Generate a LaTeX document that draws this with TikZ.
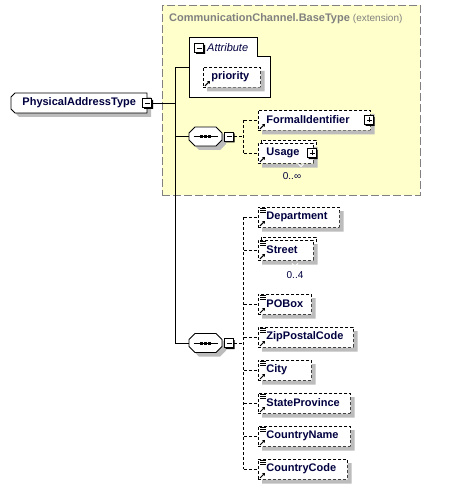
\documentclass[tikz,border=0pt]{standalone}
\usepackage{fontspec}
\setmainfont{Liberation Sans}
\usetikzlibrary{arrows.meta}

\definecolor{namecol}{RGB}{0,0,64}
\definecolor{shadecol}{RGB}{188,188,188}
\definecolor{basecol}{RGB}{255,255,204}
\definecolor{edgecol}{RGB}{128,128,128}

\newcommand{\elemfont}{\fontsize{11}{13}\selectfont\bfseries}
\newcommand{\refarrow}[1]{\draw[line width=1pt,-{Triangle[length=2.5pt,width=3.5pt]}] ([shift={(2,-1.5)}]#1.south west) -- ++(5,-5);}
\newcommand{\simplemark}[1]{\foreach \dy in {1.5,3.5,5.5} {\draw[line width=0.7pt] ([shift={(2,\dy)}]#1.north west) -- ++(5.5,0);}}
% shadow strips of a box: left x, centre y, width
\newcommand{\boxshadow}[3]{\fill[shadecol] (#1+#3+0.5,#2-6) rectangle (#1+#3+4.5,#2+14.5)
  (#1+4,#2+10.5) rectangle (#1+#3+4.5,#2+14.5);}
% shadow strips of a toggle: centre x, centre y
\newcommand{\toggleshadow}[2]{\fill[black] (#1+4.6,#2-3) rectangle (#1+6,#2+6) (#1-3,#2+4.6) rectangle (#1+6,#2+6);}
\newcommand{\seqpath}[2]{(#1,#2-3.5) -- (#1+6,#2-9.5) -- (#1+27,#2-9.5) -- (#1+33,#2-3.5)
  -- (#1+33,#2+3.5) -- (#1+27,#2+9.5) -- (#1+6,#2+9.5) -- (#1,#2+3.5) -- cycle}
\newcommand{\seqmark}[1]{\draw[line width=0.9pt] ([xshift=-12pt]#1.center) -- ([xshift=12pt]#1.center);
  \foreach \dx in {-4,0,4} {\fill ([xshift=\dx pt]#1.center) +(-1.5pt,-1.5pt) rectangle +(1.5pt,1.5pt);}}

\tikzset{
  outline/.style={draw,line width=0.9pt,fill=white},
  elem/.style={draw,dash pattern=on 3pt off 2pt,line width=0.9pt,fill=white,
    anchor=west,minimum height=20pt,inner xsep=8pt,inner ysep=0pt,
    text=namecol,font=\elemfont,align=left,text width=#1pt-16pt},
  toggle/.style={draw,line width=0.9pt,fill=white,minimum size=9pt,inner sep=0pt},
  minusbox/.style={toggle,path picture={\draw[line width=0.9pt]
    ([xshift=2pt]path picture bounding box.west) -- ([xshift=-2pt]path picture bounding box.east);}},
  plusbox/.style={toggle,path picture={\draw[line width=0.9pt]
    ([xshift=2pt]path picture bounding box.west) -- ([xshift=-2pt]path picture bounding box.east)
    ([yshift=2pt]path picture bounding box.south) -- ([yshift=-2pt]path picture bounding box.north);}},
  typebox/.style={anchor=west,minimum width=136pt,minimum height=20pt,inner sep=0pt,
    text=namecol,font=\elemfont},
  seqbox/.style={anchor=west,minimum width=33pt,minimum height=19pt,inner sep=0pt},
  conn/.style={line width=0.9pt},
  branch/.style={line width=0.9pt,dash pattern=on 3pt off 2pt},
  mult/.style={text=namecol,inner sep=0pt,font=\fontsize{10}{12}\selectfont},
}

\begin{document}
\begin{tikzpicture}[x=1pt,y=-1pt]
\useasboundingbox (0,0) rectangle (463,489);

% Node: CommunicationChannel.BaseType
\node[draw=edgecol,line width=0.9pt,dash pattern=on 8pt off 3pt,fill=basecol,anchor=north west,
  minimum width=258pt,minimum height=190pt] (base) at (162,5) {};
\node[anchor=west,inner sep=0pt,text=edgecol,font=\fontsize{11}{13}\selectfont] (basetitle) at (169,19)
  {\textbf{CommunicationChannel.BaseType} {\fontsize{10}{12}\selectfont(extension)}};

% Shadows of the outlined shapes
\fill[shadecol] (15,101) -- (19,97) -- (151,97) -- (151,117) -- (19,117) -- (15,113) -- cycle;
\fill[shadecol,shift={(4,4)}] \seqpath{189}{136.5};
\fill[shadecol,shift={(4,4)}] \seqpath{189}{343};

% Node: Attribute
\node[anchor=west,minimum width=81pt,minimum height=59pt,inner sep=0pt] (attr) at (189,67.5) {};
\draw[outline] (attr.north west) -- ++(68,0) |- ([yshift=-19pt]attr.north east)
  -- (attr.south east) -- (attr.south west) -- cycle;
\node[minusbox] (attrminus) at (199,48) {};
\node[anchor=west,inner sep=0pt,text=namecol,font=\fontsize{11}{13}\selectfont\itshape] (attrlabel) at (207,48) {Attribute};
\node[elem=57] (priority) at (203,77) {priority};
\refarrow{priority}

% Node: PhysicalAddressType
\draw[outline] (11,97) -- (15,93) -- (147,93) -- (147,113) -- (15,113) -- (11,109) -- cycle;
\node[typebox] (pat) at (11,103) {PhysicalAddressType\hspace{11pt}};
\node[minusbox] (patminus) at (pat.east) {};

% Node: sequences
\draw[outline] \seqpath{189}{136.5};
\node[seqbox] (seqone) at (189,136.5) {};
\seqmark{seqone}
\node[minusbox,anchor=west] (seqoneminus) at ([xshift=2pt]seqone.east) {};
\draw[outline] \seqpath{189}{343};
\node[seqbox] (seqtwo) at (189,343) {};
\seqmark{seqtwo}
\node[minusbox,anchor=west] (seqtwominus) at ([xshift=2pt]seqtwo.east) {};

% Edge: PhysicalAddressType -> Attribute, sequences
\draw[conn] (attr.west) -- ++(-14,0) coordinate (trunk);
\draw[conn] (trunk) -- (trunk |- seqtwo.west) -- (seqtwo.west);
\draw[conn] (trunk |- seqone.west) -- (seqone.west);
\draw[conn] (patminus.east) -- (trunk |- patminus.east);

% Node: FormalIdentifier, Usage
\node[elem=112] (formalid) at (258,120) {FormalIdentifier};
\refarrow{formalid}
\draw[branch,fill=white] (261,140) rectangle (316,160);
\node[elem=55] (usage) at (258,153) {Usage};
\refarrow{usage}

% Edge: sequence -> FormalIdentifier, Usage
\draw[branch] (seqoneminus.east) -- ++(9.5,0) coordinate (brone);
\draw[branch] (brone |- formalid.west) -- (brone |- usage.west);
\draw[branch] (brone |- formalid.west) -- (formalid.west);
\draw[branch] (brone |- usage.west) -- (usage.west);

% Node: address parts, Edge: sequence -> parts
\draw[branch] (seqtwominus.east) -- ++(9.5,0) coordinate (brtwo);
\draw[branch,fill=white] (261,237) rectangle (316,257);
\foreach \nm/\txt/\w/\cy in {dept/Department/81/217, street/Street/55/250, pobox/POBox/53/304,
  zip/ZipPostalCode/95/337, city/City/53/370, state/StateProvince/92/403,
  cname/CountryName/92/436, ccode/CountryCode/89/469} {
  \node[elem=\w] (\nm) at (258,\cy) {\txt};
  \refarrow{\nm}
  \simplemark{\nm}
  \draw[branch] (brtwo |- \nm.west) -- (\nm.west);
}
\draw[branch] (brtwo |- dept.west) -- (brtwo |- ccode.west);

% Shadows of the boxes
\boxshadow{203}{77}{57}
\boxshadow{258}{120}{112}
\boxshadow{258}{153}{55}
\foreach \w/\cy in {81/217,55/250,53/304,95/337,53/370,92/403,92/436,89/469} {
  \boxshadow{258}{\cy}{\w}
}
\draw[white,line width=0.8pt] (298,163.5) -- (301,166.5) -- (304,163.5);
\draw[white,line width=0.8pt] (292,263.5) -- (295,266.5) -- (298,263.5);

% Node: toggles on the boxes
\node[plusbox] (formalidplus) at ([xshift=-1.5pt]formalid.east) {};
\node[plusbox] (usageplus) at ([xshift=-1.5pt]usage.east) {};
\foreach \tx/\ty in {199/48,147/103,228.5/136.5,228.5/343,368.5/120,311.5/153} {
  \toggleshadow{\tx}{\ty}
}

% Node: multiplicities
\node[mult] (usagemult) at (292,176) {0..∞};
\node[mult] (streetmult) at (295,275) {0..4};
%
\end{tikzpicture}
\end{document}
